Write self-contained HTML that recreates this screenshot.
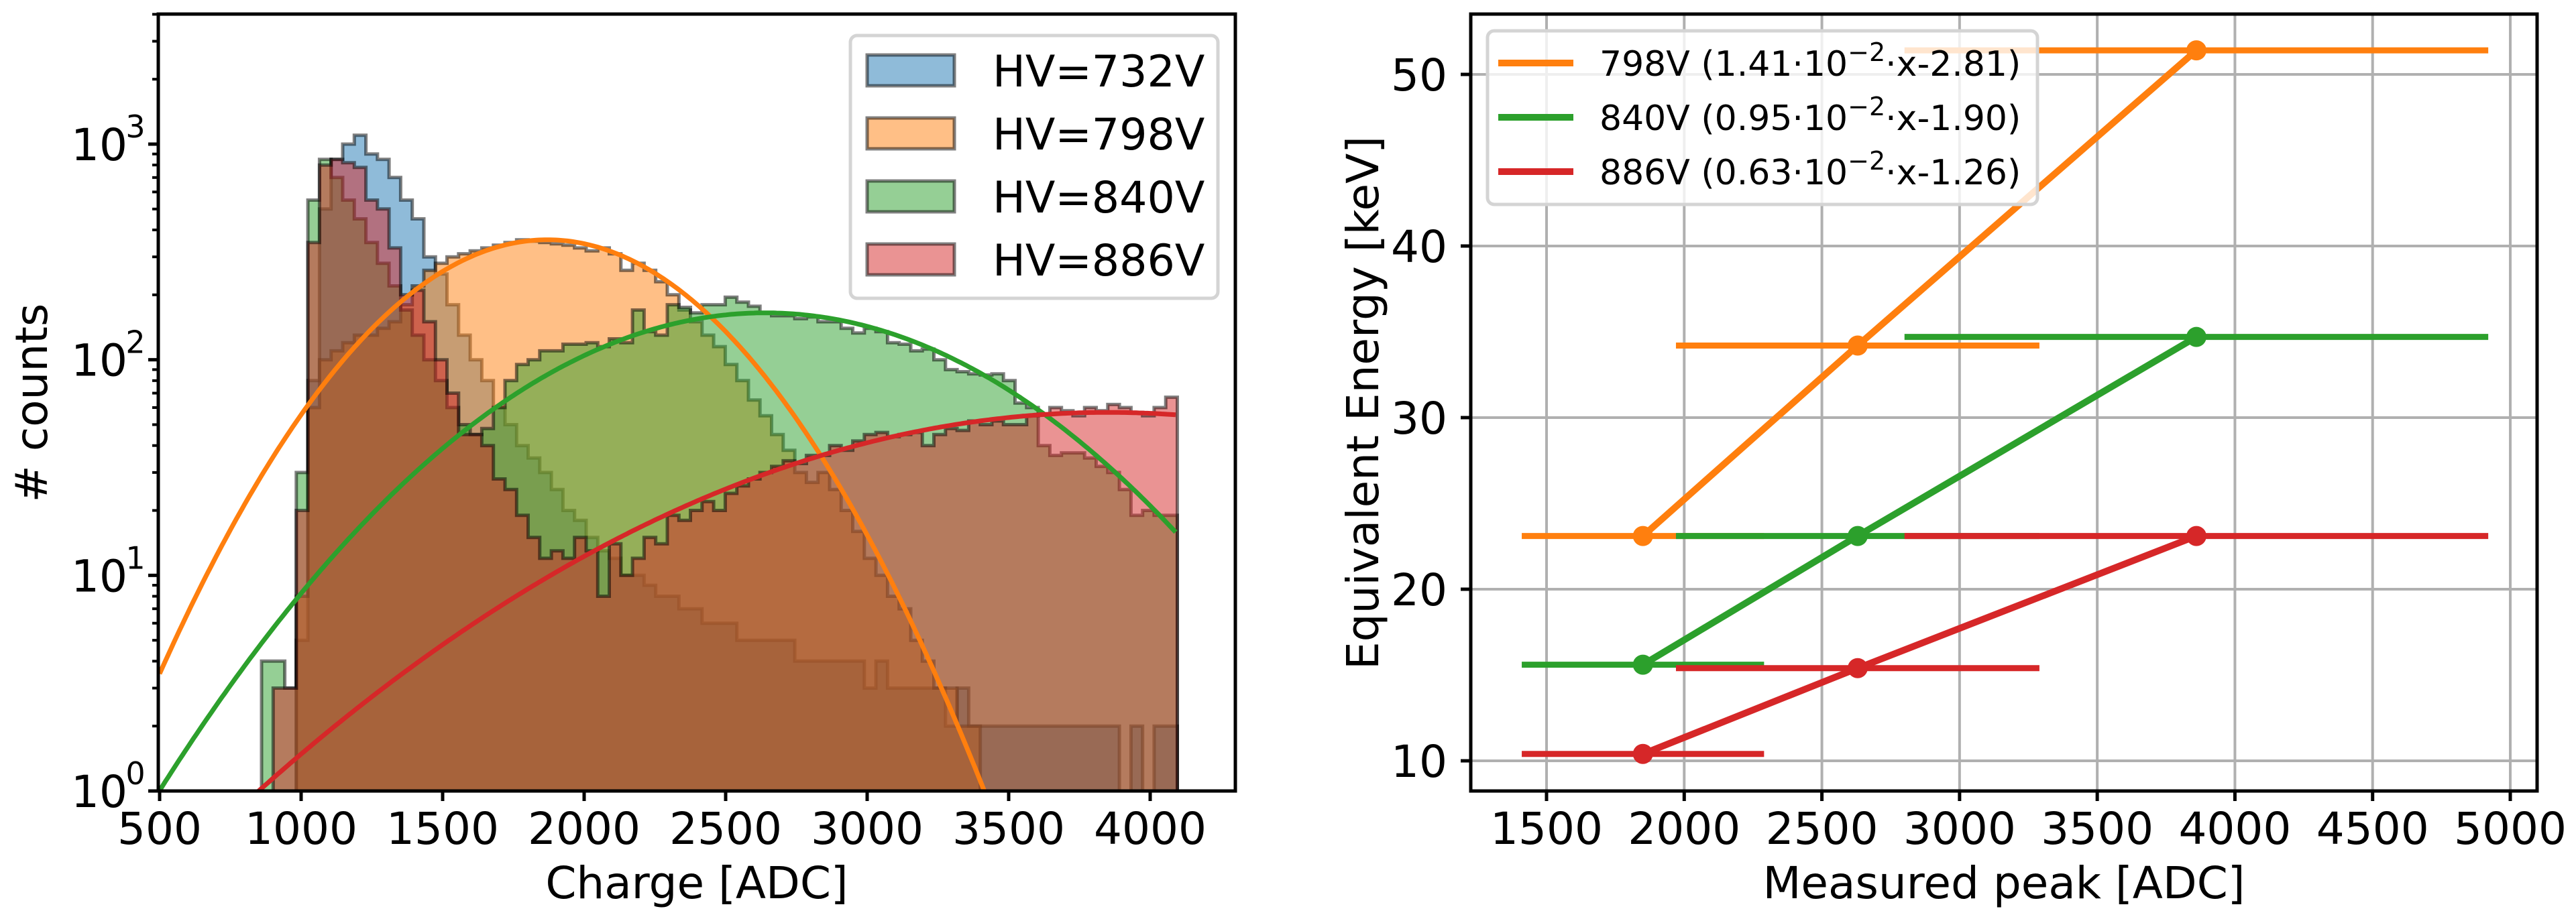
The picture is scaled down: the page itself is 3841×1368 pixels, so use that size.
<!DOCTYPE html>
<html>
<head>
<meta charset="utf-8">
<style>
  html, body { margin: 0; padding: 0; background: #fff; }
  svg { display: block; font-family: "DejaVu Sans", "Liberation Sans", sans-serif; }
</style>
</head>
<body>
<svg id="fig" width="3841" height="1368" viewBox="0 0 3841 1368" xmlns="http://www.w3.org/2000/svg">
  <rect x="0" y="0" width="3841" height="1368" fill="#fff"/>
  <defs>
    <clipPath id="clipL"><rect x="236" y="21" width="1606" height="1159"/></clipPath>
    <clipPath id="clipR"><rect x="2193" y="21" width="1590" height="1159"/></clipPath>
  </defs>
  <g id="left"></g>
  <g id="right"></g>
</svg>
<script>
// ---------- LEFT CHART DATA ----------
const binStart = 819.2;
const binWidth = 40.96;
const seriesLabels = ["HV=732V", "HV=798V", "HV=840V", "HV=886V"];
const hist732 = [0,0,0,0,5,80,500,850,1000,1100,900,850,700,550,450,300,250,180,130,100,80,60,50,40,35,30,25,20,18,15,13,12,10,10,9,8,8,7,7,6,6,6,5,5,5,5,5,4,4,4,4,4,4,3,4,3,3,3,3,3,2,3,2,2,2,2,2,2,2,2,2,2,2,2,2,1,2,1,2,2];
const hist798 = [0,0,0,0,8,60,100,110,120,130,130,140,150,180,220,260,280,300,310,320,330,340,350,360,355,350,345,340,330,320,330,310,260,280,260,230,200,170,150,130,115,95,80,65,55,45,38,30,27,30,25,20,16,12,10,8,7,5,4,3,3,2,2,1,0,0,0,0,0,0,0,0,0,0,0,0,0,0,0,0];
const hist840 = [0,4,4,3,30,550,850,700,550,450,350,280,220,170,130,100,80,60,50,45,48,60,80,95,100,110,110,118,118,120,115,125,120,170,135,130,180,175,165,180,180,195,185,177,165,160,160,155,158,150,150,140,133,140,135,120,118,110,112,100,90,88,86,85,86,80,63,60,40,36,37,37,35,32,30,25,19,20,19,19];
const hist886 = [0,0,3,3,20,350,800,850,820,780,550,500,330,200,210,150,100,70,45,45,40,28,25,19,15,12,13,12,15,13,8,14,10,12,15,14,19,18,20,22,20,24,26,28,30,32,34,33,36,36,40,38,42,45,46,44,45,46,40,45,48,47,52,50,52,50,50,55,56,60,58,55,60,58,62,60,57,55,60,67];
// Gaussian fit parameters [amplitude, mean, sigma, xStart, xEnd]
const fit798 = [360, 1870, 450, 500, 4090];
const fit840 = [165, 2640, 670, 500, 4090];
const fit886 = [57, 3850, 1055, 500, 4090];
const leftXTicks = [500, 1000, 1500, 2000, 2500, 3000, 3500, 4000];
const leftYTickExps = [0, 1, 2, 3];

// ---------- RIGHT CHART DATA ----------
const peakX = [1850, 2630, 3860];
const xErr = [440, 660, 1060];
const energy798 = [23.1, 34.2, 51.4];
const energy840 = [15.6, 23.1, 34.7];
const energy886 = [10.4, 15.4, 23.1];
const rightLabels = ["798V (1.41·10", "840V (0.95·10", "886V (0.63·10"];
const rightLabelTails = ["·x-2.81)", "·x-1.90)", "·x-1.26)"];
const rightXTicks = [1500, 2000, 2500, 3000, 3500, 4000, 4500, 5000];
const rightYTicks = [10, 20, 30, 40, 50];

const NS = "http://www.w3.org/2000/svg";
const COLORS = ["#1f77b4", "#ff7f0e", "#2ca02c", "#d62728"];
function mk(tag, attrs, parent) {
  const e = document.createElementNS(NS, tag);
  for (const k in attrs) e.setAttribute(k, attrs[k]);
  if (parent) parent.appendChild(e);
  return e;
}

// ---------- LEFT ----------
const L = { x0: 236, x1: 1842, y0: 21, y1: 1180 };
const lxs = (1715 - 238) / 3500;
function lx(v) { return 238 + (v - 500) * lxs; }
const decade = (1180 - 215) / 3;
function ly(v) { return v <= 0 ? 1200 : 1180 - decade * Math.log10(v); }

const left = document.getElementById("left");
const plotL = mk("g", { "clip-path": "url(#clipL)" }, left);



const hists = [hist732, hist798, hist840, hist886];
const histNames = ["hist-732v", "hist-798v", "hist-840v", "hist-886v"];
hists.forEach((h, si) => {
  let d = "M" + lx(binStart) + "," + ly(0);
  h.forEach((v, k) => {
    const xa = lx(binStart + k * binWidth), xb = lx(binStart + (k + 1) * binWidth);
    d += " L" + xa.toFixed(1) + "," + ly(v).toFixed(1) + " L" + xb.toFixed(1) + "," + ly(v).toFixed(1);
  });
  d += " L" + lx(binStart + h.length * binWidth).toFixed(1) + "," + ly(0) + " Z";
  const p = mk("path", { d: d, fill: COLORS[si], "fill-opacity": 0.5, stroke: "#000", "stroke-opacity": 0.5, "stroke-width": 5, "stroke-linejoin": "miter" }, plotL);
  
  
});

const fits = [fit798, fit840, fit886];
const fitNames = ["fit-798v", "fit-840v", "fit-886v"];
fits.forEach((f, i) => {
  const [A, mu, s, xs, xe] = f;
  let d = "";
  for (let x = xs; x <= xe; x += 10) {
    const v = A * Math.exp(-((x - mu) * (x - mu)) / (2 * s * s));
    d += (d ? " L" : "M") + lx(x).toFixed(1) + "," + Math.min(ly(v), 1300).toFixed(1);
  }
  const p = mk("path", { d: d, fill: "none", stroke: COLORS[i + 1], "stroke-width": 7 }, plotL);
  
  
});

const frameL = mk("rect", { x: L.x0, y: L.y0, width: L.x1 - L.x0, height: L.y1 - L.y0, fill: "none", stroke: "#000", "stroke-width": 5 }, left);



leftXTicks.forEach(t => {
  const x = lx(t);
  const tk = mk("line", { x1: x, y1: 1180, x2: x, y2: 1195, stroke: "#000", "stroke-width": 5 }, left);
  
  
  const tx = mk("text", { x: x, y: 1259, "font-size": 66, "text-anchor": "middle" }, left);
  tx.textContent = t;
  
  
});
for (let e = 0; e <= 3; e++) {
  for (let m = 1; m <= 9; m++) {
    const v = m * Math.pow(10, e);
    const y = ly(v);
    if (y < L.y0) continue;
    const tk = mk("line", { x1: 236, y1: y, x2: m === 1 ? 221 : 227, y2: y, stroke: "#000", "stroke-width": m === 1 ? 5 : 4 }, left);
    
    
  }
}
leftYTickExps.forEach(e => {
  const y = ly(Math.pow(10, e));
  const tx = mk("text", { x: 190, y: y + 24, "font-size": 66, "text-anchor": "end" }, left);
  tx.textContent = "10";
  
  
  const sup = mk("text", { x: 202, y: y - 10, "font-size": 46, "text-anchor": "middle" }, left);
  sup.textContent = e;
  
  
});
const xlabL = mk("text", { x: 1039, y: 1340, "font-size": 66, "text-anchor": "middle" }, left);
xlabL.textContent = "Charge [ADC]";


const ylabL = mk("text", { x: 0, y: 0, "font-size": 66, "text-anchor": "middle", transform: "translate(70,601) rotate(-90)" }, left);
ylabL.textContent = "# counts";



const legL = mk("g", {}, left);


const legBoxL = mk("rect", { x: 1268, y: 53, width: 548, height: 392, rx: 10, fill: "#fff", "fill-opacity": 0.8, stroke: "#d4d4d4", "stroke-width": 5 }, legL);


seriesLabels.forEach((lab, i) => {
  const cy = 105 + i * 94;
  const r = mk("rect", { x: 1293, y: cy - 23, width: 130, height: 46, fill: COLORS[i], "fill-opacity": 0.5, stroke: "#000", "stroke-opacity": 0.5, "stroke-width": 5 }, legL);
  
  
  const t = mk("text", { x: 1480, y: cy + 24, "font-size": 65 }, legL);
  t.textContent = lab;
  
  
});

// ---------- RIGHT ----------
const R = { x0: 2193, x1: 3783, y0: 21, y1: 1180 };
const rxs = (3743 - 2306) / 3500;
function rx(v) { return 2306 + (v - 1500) * rxs; }
const rys = (1135 - 111) / 40;
function ry(v) { return 111 + (50 - v) * rys; }

const right = document.getElementById("right");
rightXTicks.forEach(t => {
  const g = mk("line", { x1: rx(t), y1: R.y0, x2: rx(t), y2: R.y1, stroke: "#b0b0b0", "stroke-width": 4 }, right);
  
  
});
rightYTicks.forEach(t => {
  const g = mk("line", { x1: R.x0, y1: ry(t), x2: R.x1, y2: ry(t), stroke: "#b0b0b0", "stroke-width": 4 }, right);
  
  
});
const plotR = mk("g", { "clip-path": "url(#clipR)" }, right);


const energies = [energy798, energy840, energy886];
const serNames = ["798v", "840v", "886v"];
energies.forEach((en, si) => {
  const col = COLORS[si + 1];
  en.forEach((v, i) => {
    const eb = mk("line", { x1: rx(peakX[i] - xErr[i]), y1: ry(v), x2: rx(peakX[i] + xErr[i]), y2: ry(v), stroke: col, "stroke-width": 9 }, plotR);
    
    
  });
  let d = "";
  en.forEach((v, i) => { d += (i ? " L" : "M") + rx(peakX[i]).toFixed(1) + "," + ry(v).toFixed(1); });
  const ln = mk("path", { d: d, fill: "none", stroke: col, "stroke-width": 10 }, plotR);
  
  
  en.forEach((v, i) => {
    const c = mk("circle", { cx: rx(peakX[i]), cy: ry(v), r: 15, fill: col }, plotR);
    
    
  });
});
const frameR = mk("rect", { x: R.x0, y: R.y0, width: R.x1 - R.x0, height: R.y1 - R.y0, fill: "none", stroke: "#000", "stroke-width": 5 }, right);


rightXTicks.forEach(t => {
  const x = rx(t);
  const tk = mk("line", { x1: x, y1: 1180, x2: x, y2: 1195, stroke: "#000", "stroke-width": 5 }, right);
  
  
  const tx = mk("text", { x: x, y: 1259, "font-size": 66, "text-anchor": "middle" }, right);
  tx.textContent = t;
  
  
});
rightYTicks.forEach(t => {
  const y = ry(t);
  const tk = mk("line", { x1: 2193, y1: y, x2: 2178, y2: y, stroke: "#000", "stroke-width": 5 }, right);
  
  
  const tx = mk("text", { x: 2158, y: y + 24, "font-size": 66, "text-anchor": "end" }, right);
  tx.textContent = t;
  
  
});
const xlabR = mk("text", { x: 2988, y: 1340, "font-size": 66, "text-anchor": "middle" }, right);
xlabR.textContent = "Measured peak [ADC]";


const ylabR = mk("text", { x: 0, y: 0, "font-size": 66, "text-anchor": "middle", transform: "translate(2055,601) rotate(-90)" }, right);
ylabR.textContent = "Equivalent Energy [keV]";



const legR = mk("g", {}, right);


const legBoxR = mk("rect", { x: 2218, y: 46, width: 820, height: 259, rx: 10, fill: "#fff", "fill-opacity": 0.8, stroke: "#d4d4d4", "stroke-width": 5 }, legR);


rightLabels.forEach((lab, i) => {
  const cy = 94 + i * 81;
  const l = mk("line", { x1: 2234, y1: cy, x2: 2346, y2: cy, stroke: COLORS[i + 1], "stroke-width": 10 }, legR);
  
  
  const t = mk("text", { x: 2385, y: cy + 19, "font-size": 52 }, legR);
  
  
  const t1 = mk("tspan", {}, t); t1.textContent = lab;
  const t2 = mk("tspan", { dy: -22, "font-size": 38 }, t); t2.textContent = "−2";
  const t3 = mk("tspan", { dy: 22 }, t); t3.textContent = rightLabelTails[i];
});
</script>
</body>
</html>
